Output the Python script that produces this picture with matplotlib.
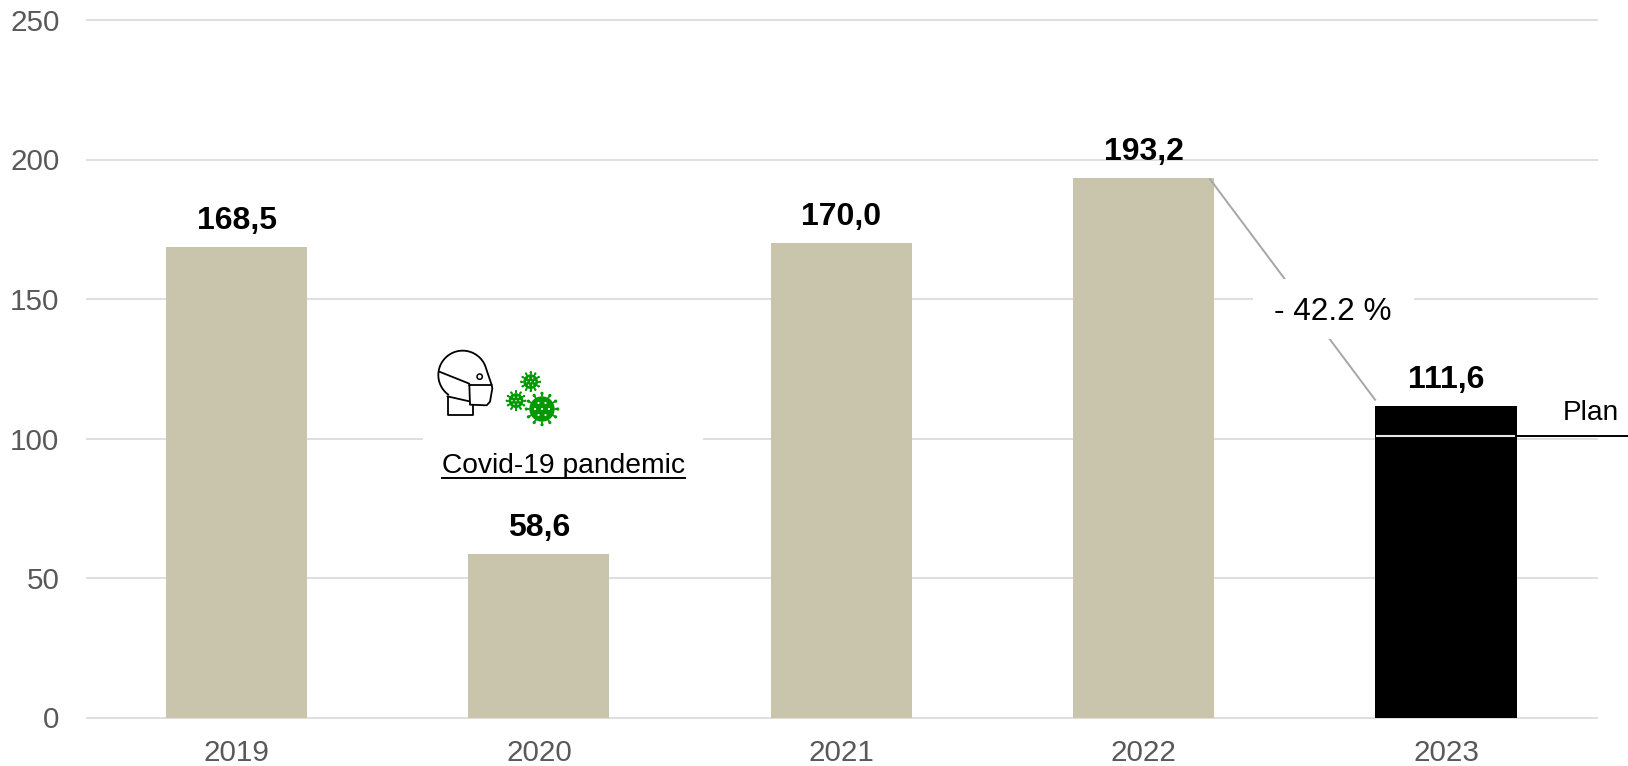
import numpy as np
import matplotlib
matplotlib.use("Agg")
import matplotlib.pyplot as plt
from matplotlib.patches import Rectangle, Circle
from matplotlib.transforms import Affine2D

plt.rcParams['font.family'] = ['Liberation Sans', 'DejaVu Sans']

years = ['2019', '2020', '2021', '2022', '2023']
values = [168.5, 58.6, 170.0, 193.2, 111.6]
value_labels = ['168,5', '58,6', '170,0', '193,2', '111,6']
bar_colors = ['#c9c5ad', '#c9c5ad', '#c9c5ad', '#c9c5ad', '#000000']
y_ticks = [0, 50, 100, 150, 200, 250]
plan_value = 100.9
change_label = '- 42.2 %'
plan_label = 'Plan'
covid_label = 'Covid-19 pandemic'

W, H = 1628, 766
fig = plt.figure(figsize=(W / 100, H / 100), dpi=100)
ax = fig.add_axes([85.5 / W, 1 - 717.5 / H, 1512 / W, 697.5 / H])
px = Affine2D().scale(1 / W, -1 / H).translate(0, 1) + fig.transFigure

x = np.arange(len(years))
half = 0.2335
ax.bar(x - 0.001, values, width=2 * half, color=bar_colors, zorder=3, linewidth=0)
ax.set_xlim(-0.5, 4.5)
ax.set_ylim(0, 250)
ax.set_xticks(x, years)
ax.set_yticks(y_ticks)
ax.tick_params(axis='both', length=0, labelsize=21.3, labelcolor='#595959')
ax.tick_params(axis='x', pad=15.8)
ax.tick_params(axis='y', pad=18.8)
ax.grid(axis='y', color='#d9d9d9', lw=1.2, zorder=0)
ax.set_axisbelow(True)
for s in ax.spines.values():
    s.set_visible(False)
for gl in ax.get_ygridlines():
    gl.set_clip_on(False)
    gl.set_solid_capstyle('butt')

for xi, v, lab in zip(x, values, value_labels):
    ax.annotate(lab, (xi, v), xytext=(0, 26.5), textcoords='offset pixels',
                ha='center', va='center', fontsize=23, fontweight='bold',
                color='black', zorder=6)

# connector between the 2022 and 2023 bars
ax.plot([x[3] + 0.217, x[4] - half], [values[3], values[4] + 2],
        color='#a6a6a6', lw=1.4, zorder=4, solid_capstyle='butt')

# white boxes hiding the grid and connector behind the labels
fig.add_artist(Rectangle((1253, 279), 161, 60, transform=px, fc='white', ec='none', zorder=5))
fig.add_artist(Rectangle((423, 420), 280, 62, transform=px, fc='white', ec='none', zorder=5))
fig.text(1332.5 / W, 1 - 312 / H, change_label, ha='center', va='center',
         fontsize=22.7, color='black', zorder=6)

# plan marker
ax.plot([x[4] - half, x[4] + half - 0.006], [plan_value] * 2, color='#e6e6e6',
        lw=1.5, zorder=4, solid_capstyle='butt')
ax.plot([x[4] + half - 0.006, 4.6], [plan_value] * 2, color='black', lw=1.4,
        zorder=4, clip_on=False, solid_capstyle='butt')
fig.text(1591 / W, 1 - 413 / H, plan_label, ha='center', va='center', fontsize=20.2, color='black')

# covid caption
fig.text(563.5 / W, 1 - 466 / H, covid_label, ha='center', va='center',
         fontsize=20.3, color='black', zorder=6)
fig.add_artist(plt.Line2D([442, 685], [478, 478], transform=px, color='black', lw=1.4, zorder=6))

# icon, drawn in zoom-crop coordinates
icon = Affine2D().scale(1 / 3).translate(410, 330) + px


def add_line(xs, ys, lw=1.3, color='black'):
    fig.add_artist(plt.Line2D(xs, ys, transform=icon, color=color, lw=lw, zorder=7,
                              solid_joinstyle='round', solid_capstyle='round'))


t = np.radians(np.linspace(-22, -234, 90))
cx, cy, r = 158, 135, 73
add_line([245] + list(cx + r * np.cos(t)), [165] + list(cy + r * np.sin(t)))
add_line([88, 178], [125, 161])
add_line([112, 178], [199, 214])
add_line([115, 115, 188, 188], [200, 256, 256, 225])
add_line([178, 245, 247, 240, 230, 180, 178], [165, 165, 175, 215, 226, 224, 165])
fig.add_artist(Circle((209, 140), 8, transform=icon, fc='white', ec='black', lw=1.1, zorder=7))


def virus(cx, cy, r, spike, n, dot):
    green = '#009900'
    fig.add_artist(Circle((cx, cy), r, transform=icon, fc=green, ec='none', zorder=7))
    for a in np.linspace(0, 2 * np.pi, n, endpoint=False):
        c, s = np.cos(a), np.sin(a)
        add_line([cx + r * c, cx + spike * c], [cy + r * s, cy + spike * s], lw=1.3, color=green)
        fig.add_artist(Circle((cx + spike * c, cy + spike * s), dot * 1.5, transform=icon,
                              fc=green, ec='none', zorder=7))
    pts = [(0, 0)] + [(0.55 * r * np.cos(a), 0.55 * r * np.sin(a))
                      for a in np.linspace(0, 2 * np.pi, 6, endpoint=False)]
    for dx, dy in pts:
        fig.add_artist(Circle((cx + dx, cy + dy), dot, transform=icon, fc='white', ec='none', zorder=8))


virus(362, 155, 22, 28, 12, 2.2)
virus(318, 212, 22, 28, 12, 2.2)
virus(396, 237, 38, 47, 12, 3.2)

fig.savefig('out.png', dpi=100, facecolor='white')
